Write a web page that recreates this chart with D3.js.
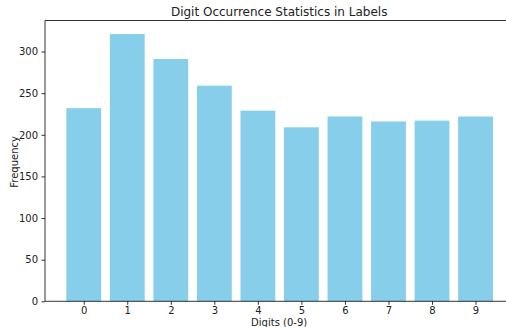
<!DOCTYPE html>
<html><head><meta charset="utf-8">
<script src="https://cdn.jsdelivr.net/npm/d3@7"></script>
<style>body{margin:0;background:#fff;} text{font-family:"DejaVu Sans",sans-serif;fill:#222;}</style>
</head><body>
<svg id="c" width="506" height="327"></svg>
<script>
const digits = ["0","1","2","3","4","5","6","7","8","9"];
const counts = [232, 321, 291, 259, 229, 209, 222, 216, 217, 222];
const yTicks = [0, 50, 100, 150, 200, 250, 300];

const svg = d3.select("#c");
const mLeft = 45, mRight = 514.3, mTop = 20.5, mBottom = 301.3;
const x = d3.scaleLinear().domain([-0.89, 9.89]).range([mLeft, mRight]);
const y = d3.scaleLinear().domain([0, 337.3]).range([mBottom, mTop]);
const bw = x(0.8) - x(0);

svg.selectAll("rect.bar").data(counts).enter().append("rect")
  .attr("class","bar")
  .attr("x",(d,i)=>x(i-0.4)).attr("width",bw)
  .attr("y",d=>y(d)).attr("height",d=>y(0)-y(d))
  .attr("fill","#87CEEB");

const xa = svg.append("g").attr("transform",`translate(0,${mBottom})`)
  .call(d3.axisBottom(x).tickValues(d3.range(10)).tickFormat(i=>digits[i]).tickSize(3.5).tickPadding(2.2));
const ya = svg.append("g").attr("transform",`translate(${mLeft},0)`)
  .call(d3.axisLeft(y).tickValues(yTicks).tickSize(3.5).tickPadding(3.5));
[xa,ya].forEach(a=>{
  a.select(".domain").remove();
  a.selectAll("line").attr("stroke","#000").attr("stroke-width",0.8);
  a.selectAll("text").style("font-size","10px").style("font-family","DejaVu Sans").attr("fill","#222");
});
svg.append("path").attr("d",`M${mLeft},${mTop}H${mRight}V${mBottom}H${mLeft}Z`)
  .attr("fill","none").attr("stroke","#000").attr("stroke-width",0.8);

const cx = (mLeft+mRight)/2 - 0.5;
svg.append("text").attr("x",cx).attr("y",16).attr("text-anchor","middle")
  .style("font-size","12px").text("Digit Occurrence Statistics in Labels");
svg.append("text").attr("x",cx).attr("y",325.5).attr("text-anchor","middle")
  .style("font-size","10px").text("Digits (0-9)");
svg.append("text").attr("transform",`translate(18,${(mTop+mBottom)/2 + 1}) rotate(-90)`).attr("text-anchor","middle")
  .style("font-size","10px").text("Frequency");
</script>
</body></html>
